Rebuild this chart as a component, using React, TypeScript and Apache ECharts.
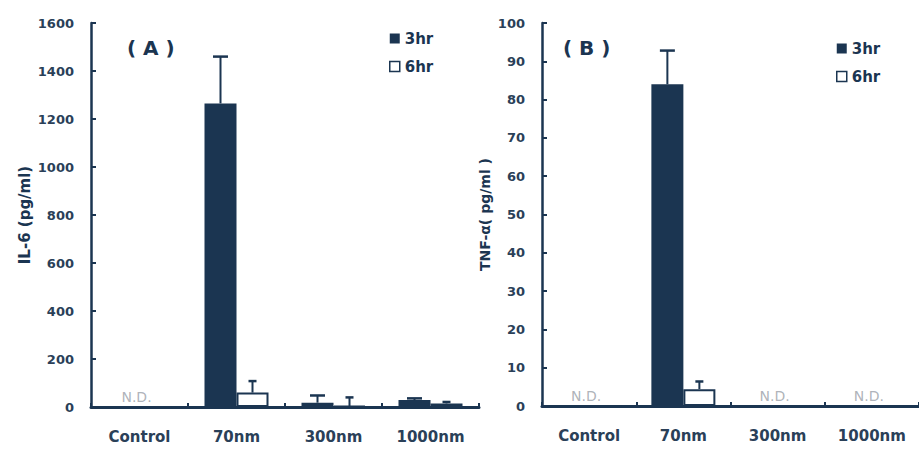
import React, { useEffect, useRef } from "react";
import * as echarts from "echarts";

const categories = ["Control", "70nm", "300nm", "1000nm"];
const seriesNames = ["3hr", "6hr"];

// Panel A: IL-6 (pg/ml)
const il6Hr3 = [0, 1265, 18, 29];
const il6Hr3Err = [0, 195, 30, 7];
const il6Hr6 = [0, 60, 4, 15];
const il6Hr6Err = [0, 48, 36, 6];
const il6ND = [true, false, false, false];
const il6Ticks = [0, 1600, 200];

// Panel B: TNF-α (pg/ml)
const tnfHr3 = [0, 84, 0, 0];
const tnfHr3Err = [0, 8.8, 0, 0];
const tnfHr6 = [0, 4.4, 0, 0];
const tnfHr6Err = [0, 2, 0, 0];
const tnfND = [true, false, true, true];
const tnfTicks = [0, 100, 10];

const NAVY = "#1b3551";
const TEXT = "#2a4058";
const FONT = "DejaVu Sans";
const BAR_W = 32;

function errData(vals: number[], errs: number[], offset: number, cap: number) {
  return vals.map((v, i) => [i, v, errs[i], offset, cap]);
}

function ndData(nd: boolean[]) {
  return nd.map((f, i) => (f ? [i, 0] : null)).filter((d) => d !== null);
}

const renderErr = (params: any, api: any) => {
  const err = api.value(2);
  if (!err) return null;
  const idx = api.value(0);
  const v = api.value(1);
  const off = api.value(3);
  const cap = api.value(4);
  const base = api.coord([idx, v]);
  const top = api.coord([idx, v + err]);
  const x = base[0] + off;
  const st = { stroke: NAVY, lineWidth: 2 };
  return {
    type: "group",
    children: [
      { type: "line", shape: { x1: x, y1: base[1], x2: x, y2: top[1] }, style: st },
      { type: "line", shape: { x1: x - cap / 2, y1: top[1], x2: x + cap / 2, y2: top[1] }, style: { stroke: NAVY, lineWidth: 2.5 } },
    ],
  };
};

function xAxisCfg(gridIndex: number) {
  return {
    type: "category",
    gridIndex,
    data: categories,
    boundaryGap: true,
    axisLine: { lineStyle: { color: NAVY, width: 3 } },
    axisTick: { show: true, inside: true, length: 4, lineStyle: { color: NAVY, width: 2 } },
    axisLabel: { color: TEXT, fontFamily: FONT, fontWeight: "bold", fontSize: 15, margin: 22 },
  };
}

function yAxisCfg(gridIndex: number, ticks: number[], name: string, nameGap: number, nameSize: number) {
  return {
    type: "value",
    gridIndex,
    min: ticks[0],
    max: ticks[1],
    interval: ticks[2],
    name,
    nameLocation: "middle",
    nameGap,
    nameTextStyle: { color: NAVY, fontFamily: FONT, fontWeight: "bold", fontSize: nameSize },
    splitLine: { show: false },
    axisLine: { show: true, lineStyle: { color: NAVY, width: 2.5 } },
    axisTick: { show: true, inside: true, length: 5, lineStyle: { color: NAVY, width: 2 } },
    axisLabel: {
      color: TEXT,
      fontFamily: FONT,
      fontWeight: "bold",
      fontSize: 13,
      margin: 17,
      formatter: (v: number) => String(v),
    },
  };
}

function panelSeries(idx: number, h3: number[], h3e: number[], h6: number[], h6e: number[], nd: boolean[]) {
  return [
    {
      name: seriesNames[0],
      type: "bar",
      xAxisIndex: idx,
      yAxisIndex: idx,
      data: h3,
      barWidth: BAR_W,
      barGap: "0%",
      itemStyle: { color: NAVY },
    },
    {
      name: seriesNames[1],
      type: "bar",
      xAxisIndex: idx,
      yAxisIndex: idx,
      data: h6,
      barWidth: BAR_W,
      barGap: "0%",
      itemStyle: { color: "#ffffff", borderColor: NAVY, borderWidth: 2 },
    },
    {
      type: "custom",
      xAxisIndex: idx,
      yAxisIndex: idx,
      renderItem: renderErr,
      data: errData(h3, h3e, -BAR_W / 2, 15),
      encode: { x: 0, y: 1 },
      z: 3,
    },
    {
      type: "custom",
      xAxisIndex: idx,
      yAxisIndex: idx,
      renderItem: renderErr,
      data: errData(h6, h6e, BAR_W / 2, 8),
      encode: { x: 0, y: 1 },
      z: 3,
    },
    {
      type: "scatter",
      xAxisIndex: idx,
      yAxisIndex: idx,
      data: ndData(nd),
      symbolSize: 1,
      itemStyle: { color: "rgba(0,0,0,0)" },
      label: {
        show: true,
        formatter: "N.D.",
        position: "top",
        distance: 3,
        offset: [-3, 0],
        color: "#9aa0a8",
        fontFamily: FONT,
        fontSize: 14,
      },
    },
  ];
}

function legendCfg(left: number, top: number) {
  return {
    orient: "vertical",
    left,
    top,
    itemWidth: 10,
    itemHeight: 10,
    itemGap: 13,
    itemTextGap: 4,
    selectedMode: false,
    textStyle: { color: NAVY, fontFamily: FONT, fontWeight: "bold", fontSize: 15 },
    data: [
      { name: seriesNames[0], icon: "rect", itemStyle: { color: NAVY, borderWidth: 0 } },
      { name: seriesNames[1], icon: "rect", itemStyle: { color: "#ffffff", borderColor: NAVY, borderWidth: 1.5 } },
    ],
  };
}

export default function App() {
  const ref = useRef<HTMLDivElement>(null);
  useEffect(() => {
    document.body.style.margin = "0";
    if (!ref.current) return;
    const chart = echarts.init(ref.current, null, { renderer: "svg" });
    chart.setOption({
      animation: false,
      backgroundColor: "#ffffff",
      grid: [
        { left: 91, top: 23, width: 388, bottom: 44, containLabel: false },
        { left: 542, top: 23, width: 380, bottom: 45, containLabel: false },
      ],
      title: [
        { text: "( A )", left: 122, top: 33, textStyle: { color: NAVY, fontFamily: FONT, fontWeight: "bold", fontSize: 20 } },
        { text: "( B )", left: 558, top: 33, textStyle: { color: NAVY, fontFamily: FONT, fontWeight: "bold", fontSize: 20 } },
      ],
      legend: [legendCfg(384, 26), legendCfg(831, 36)],
      xAxis: [xAxisCfg(0), xAxisCfg(1)],
      yAxis: [
        yAxisCfg(0, il6Ticks, "IL-6 (pg/ml)", 59, 15),
        yAxisCfg(1, tnfTicks, "TNF-α( pg/ml )", 50, 14),
      ],
      series: [
        ...panelSeries(0, il6Hr3, il6Hr3Err, il6Hr6, il6Hr6Err, il6ND),
        ...panelSeries(1, tnfHr3, tnfHr3Err, tnfHr6, tnfHr6Err, tnfND),
      ],
    });
    return () => chart.dispose();
  }, []);
  return <div ref={ref} style={{ width: 919, height: 451 }} />;
}
